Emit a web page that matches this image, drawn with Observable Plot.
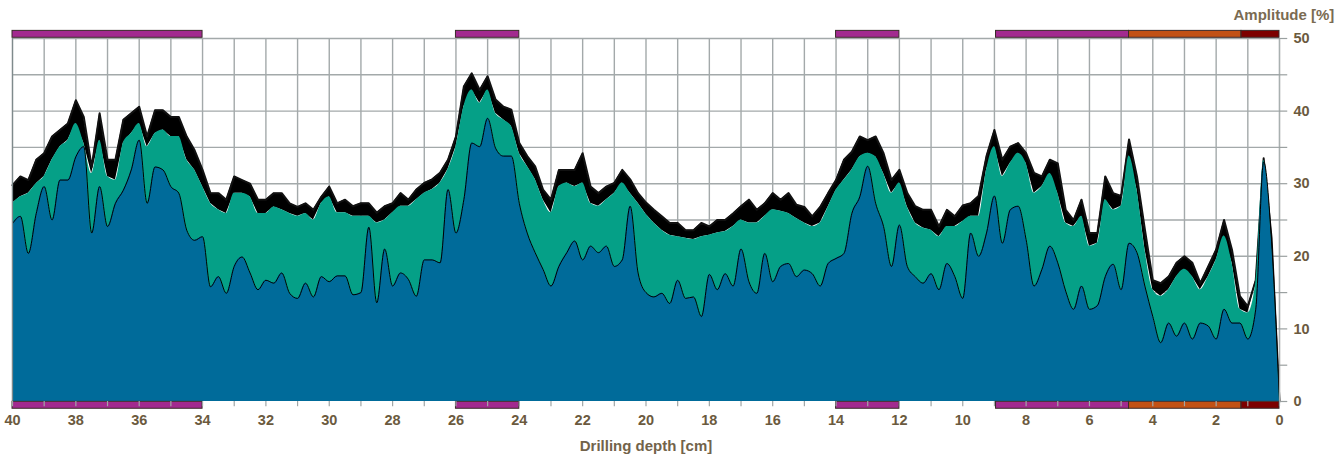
<!DOCTYPE html>
<html>
<head>
<meta charset="utf-8">
<script src="https://cdn.jsdelivr.net/npm/d3@7"></script>
<script src="https://cdn.jsdelivr.net/npm/@observablehq/plot@0.6"></script>
<style>
  html, body { margin: 0; padding: 0; background: #ffffff; }
  #chart { width: 1339px; height: 460px; overflow: hidden; }
</style>
</head>
<body>
<div id="chart"></div>
<script>
// Drilling depth sampling grid (cm), 40 -> 0 in 0.25 cm steps
const depthStep = 0.25;
const depth = d3.range(161).map(i => +(40 - i * depthStep).toFixed(2));

// Upper noisy envelope (top of black band), amplitude %
const topAmp = [
  29.8, 31.0, 30.5, 33.3, 34.2, 36.5, 37.4, 38.3, 41.5, 39.2,
  32.3, 39.7, 33.3, 33.3, 38.8, 39.7, 40.6, 36.5, 40.1, 40.1,
  39.2, 39.2, 36.5, 34.6, 31.9, 28.7, 28.7, 27.8, 31.0, 30.5,
  30.0, 27.8, 27.8, 28.7, 28.7, 27.3, 26.8, 27.3, 26.4, 28.2,
  29.6, 27.3, 27.8, 26.9, 27.3, 27.3, 26.0, 26.9, 27.3, 28.7,
  27.8, 29.2, 30.1, 30.6, 31.5, 33.3, 36.5, 43.4, 45.2, 42.9,
  44.8, 41.6, 40.6, 40.2, 35.6, 33.8, 32.4, 29.2, 27.8, 31.9,
  31.9, 31.9, 34.2, 29.6, 28.7, 29.6, 30.1, 31.9, 30.6, 28.7,
  27.4, 26.4, 25.5, 24.6, 24.6, 23.6, 23.6, 24.6, 24.1, 25.0,
  25.0, 25.9, 26.9, 27.8, 26.4, 27.3, 28.7, 27.8, 28.7, 27.1,
  26.8, 25.5, 26.8, 28.7, 30.5, 33.3, 34.4, 36.5, 36.0, 36.5,
  34.2, 30.5, 31.9, 28.7, 26.9, 26.4, 26.4, 24.1, 26.4, 25.5,
  27.0, 27.3, 28.3, 33.8, 37.4, 33.3, 35.1, 35.6, 34.2, 31.5,
  31.0, 33.3, 32.8, 26.4, 25.0, 27.8, 23.2, 23.2, 31.0, 28.7,
  28.3, 36.1, 31.0, 23.7, 16.7, 16.3, 17.2, 19.1, 20.0, 19.1,
  16.3, 18.6, 20.9, 25.0, 20.9, 14.5, 13.1, 16.7, 33.5, 22.5,
  0
];

// Upper (teal) series, amplitude %
const upperAmp = [
  27.3, 28.2, 28.7, 30.0, 31.0, 33.3, 35.1, 36.0, 38.3, 35.6,
  31.4, 36.0, 31.0, 30.5, 35.6, 36.9, 38.3, 35.1, 36.9, 37.4,
  36.5, 36.5, 33.3, 31.9, 29.6, 27.3, 26.4, 25.9, 28.7, 28.7,
  28.2, 25.9, 25.9, 26.8, 26.4, 25.9, 25.5, 25.9, 25.0, 27.3,
  28.2, 26.0, 26.0, 25.5, 25.5, 25.5, 24.6, 25.0, 26.0, 26.9,
  26.9, 27.8, 28.7, 29.2, 30.1, 32.0, 35.1, 40.6, 42.9, 41.1,
  42.9, 39.7, 38.8, 37.9, 34.2, 32.4, 30.6, 27.8, 26.0, 29.6,
  30.1, 29.6, 30.1, 27.3, 26.9, 27.8, 28.7, 30.1, 28.7, 27.3,
  25.8, 24.6, 23.6, 22.9, 22.7, 22.5, 22.3, 22.7, 22.9, 23.2,
  23.4, 24.1, 25.0, 24.6, 24.6, 25.5, 26.4, 26.2, 25.9, 25.2,
  24.6, 24.1, 24.6, 26.8, 29.1, 30.5, 31.9, 33.7, 34.2, 33.7,
  31.4, 28.7, 30.1, 26.8, 24.6, 23.9, 23.6, 22.7, 24.1, 24.1,
  24.8, 25.5, 25.5, 31.9, 35.1, 31.0, 32.8, 34.2, 32.8, 28.7,
  29.6, 31.4, 28.7, 24.6, 24.1, 25.5, 21.4, 21.8, 27.8, 26.4,
  26.9, 33.8, 29.2, 21.0, 15.4, 14.5, 15.4, 17.2, 18.2, 17.2,
  15.4, 17.2, 19.5, 22.8, 19.1, 12.7, 12.2, 16.3, 33.2, 22.0,
  0
];

// Lower (blue) series, amplitude %
const lowerAmp = [
  24.5, 25.5, 20.4, 25.9, 29.6, 25.0, 30.5, 30.5, 33.7, 35.1,
  23.2, 29.6, 24.1, 27.3, 29.1, 31.9, 36.0, 27.3, 32.3, 31.9,
  29.6, 28.7, 23.6, 22.2, 22.7, 15.8, 17.2, 14.9, 18.6, 19.9,
  17.7, 15.4, 16.7, 16.3, 17.7, 14.9, 14.2, 16.3, 14.4, 17.2,
  16.5, 17.3, 17.3, 14.7, 15.0, 24.0, 13.6, 21.0, 15.9, 17.7,
  16.8, 14.5, 19.5, 19.5, 19.1, 29.2, 23.2, 27.8, 35.6, 35.1,
  39.0, 34.9, 33.8, 33.8, 27.3, 23.2, 20.5, 18.2, 15.9, 18.6,
  20.5, 22.1, 19.5, 21.4, 20.5, 21.4, 18.6, 19.5, 26.9, 17.7,
  15.0, 14.4, 14.9, 13.5, 16.7, 14.2, 14.4, 11.7, 17.5, 15.4,
  17.6, 15.9, 21.0, 16.5, 14.9, 20.4, 16.5, 18.6, 19.0, 17.2,
  18.1, 17.6, 15.9, 19.0, 19.7, 20.4, 25.9, 28.2, 32.4, 27.3,
  24.1, 18.6, 24.3, 18.6, 17.2, 16.3, 17.6, 15.4, 19.0, 17.2,
  14.2, 23.2, 20.0, 23.2, 28.3, 21.8, 26.4, 26.9, 22.3, 15.9,
  18.2, 21.4, 19.1, 15.2, 12.7, 15.9, 12.7, 13.2, 17.2, 18.9,
  15.4, 21.8, 20.5, 15.9, 11.7, 8.1, 10.8, 9.0, 10.8, 8.6,
  10.8, 10.4, 8.6, 12.7, 10.8, 10.8, 8.6, 12.7, 33.0, 22.0,
  0
];

// Material segments shown as bars above and below the plot
const segStart = [40, 26, 14, 8.95, 4.75, 1.2];
const segEnd   = [34, 24, 12, 4.75, 1.2, 0];
const segColor = ["#a22a8f", "#a22a8f", "#a22a8f", "#a22a8f", "#c25115", "#7d0000"];

// Tick values / labels
const xGrid = d3.range(0, 41, 1);
const xLabels = [40, 38, 36, 34, 32, 30, 28, 26, 24, 22, 20, 18, 16, 14, 12, 10, 8, 6, 4, 2, 0];
const yGrid = [5, 10, 15, 20, 25, 30, 35, 40, 45];
const yTicks = [0, 5, 10, 15, 20, 25, 30, 35, 40, 45, 50];
const yLabels = [0, 10, 20, 30, 40, 50];

const xTitle = "Drilling depth [cm]";
const yTitle = "Amplitude [%]";

const data = depth.map((d, i) => ({ d, top: topAmp[i], mid: upperAmp[i], low: lowerAmp[i] }));
const segs = segStart.map((s, i) => ({ s, e: segEnd[i], c: segColor[i] }));

const gridColor = "#a3a9aa";
const textColor = "#6b5a3e";
const teal = "#05a087";
const blue = "#006b9a";

const chart = Plot.plot({
  width: 1339,
  height: 460,
  marginLeft: 12,
  marginRight: 60,
  marginTop: 38,
  marginBottom: 59,
  x: { domain: [40, 0], axis: null },
  y: { domain: [0, 50], axis: null },
  color: { type: "identity" },
  style: { fontFamily: "'Liberation Sans', Arial, sans-serif", background: "#ffffff", overflow: "visible" },
  marks: [
    Plot.ruleX(xGrid, { x: d => d, y1: 0, y2: 50, stroke: gridColor, strokeWidth: 1.4 }),
    Plot.ruleY(yGrid, { y: d => d, x1: 40, x2: 0, stroke: gridColor, strokeWidth: 1.4 }),
    Plot.ruleY([50], { x1: 40, x2: 0, stroke: gridColor, strokeWidth: 1.4 }),
    Plot.areaY(data, { x: "d", y1: "mid", y2: "top", fill: "#000000" }),
    Plot.lineY(data, { x: "d", y: "top", stroke: "#111", strokeWidth: 2 }),
    Plot.areaY(data, { x: "d", y: "mid", fill: teal, curve: "monotone-x" }),
    Plot.areaY(data, { x: "d", y: "low", fill: blue, curve: "monotone-x" }),
    Plot.lineY(data, { x: "d", y: "low", stroke: "#000000", strokeWidth: 1, curve: "monotone-x" }),
    Plot.ruleX([40], { y1: 0, y2: 50, stroke: "#7f8a8c", strokeWidth: 1.2 }),
    Plot.ruleX([0], { y1: 0, y2: 50, stroke: "#a9b0b0", strokeWidth: 1.2 }),
    // segment bars
    Plot.rect(segs, { x1: "s", x2: "e", y1: 50.1, y2: 51.05, fill: "c", stroke: "#3a2a2a", strokeWidth: 1 }),
    Plot.rect(segs, { x1: "s", x2: "e", y1: -0.05, y2: -1.0, fill: "c", stroke: "#3a2a2a", strokeWidth: 1 }),
    // x ticks
    Plot.ruleX(xGrid, { x: d => d, y1: 0, y2: -0.72, stroke: "#a0a6a6", strokeWidth: 1.2 }),
    // y ticks
    Plot.ruleY(yTicks, { y: d => d, x1: 0, x2: -0.26, stroke: "#9aa0a0", strokeWidth: 1.2 }),
    Plot.text(xLabels, { x: d => d, y: -2.65, text: d => String(d), fontSize: 14.5, fontWeight: "bold", fill: textColor }),
    Plot.text(yLabels, { x: 0, y: d => d, dx: 14, text: d => String(d), textAnchor: "start", fontSize: 14.5, fontWeight: "bold", fill: textColor }),
    Plot.text([xTitle], { x: 20, y: -6.2, text: d => d, fontSize: 15, fontWeight: "bold", fill: "#72634a" }),
    Plot.text([yTitle], { x: 0, y: 53.2, dx: -46, text: d => d, textAnchor: "start", fontSize: 15, fontWeight: "bold", fill: "#7a6b52" })
  ]
});

document.getElementById("chart").appendChild(chart);
</script>
</body>
</html>
